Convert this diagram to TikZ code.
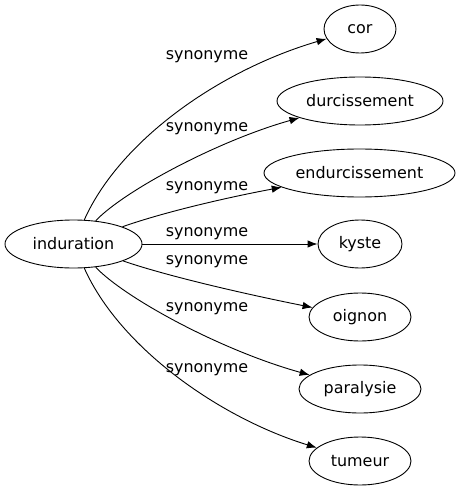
\documentclass[tikz,border=0pt]{standalone}
\usepackage{fontspec}
\setmainfont{DejaVu Sans}
\usetikzlibrary{shapes.geometric,arrows.meta}
\begin{document}
\begin{tikzpicture}[x=1bp,y=-1bp,
  every node/.style={font=\fontsize{16}{19}\selectfont},
  term/.style={draw,ellipse,inner sep=0pt,minimum height=48bp,line width=0.9bp},
  lab/.style={inner sep=0pt},
  edge/.style={line width=0.9bp,-{Latex[length=10bp,width=7.5bp]}}]
\useasboundingbox (0,0) rectangle (460,491);
\node[term,minimum width=137bp] (ind) at (73.5,244) {induration};
\node[term,minimum width=72bp] (cor) at (360,29) {cor};
\node[term,minimum width=166bp] (dur) at (360,101) {durcissement};
\node[term,minimum width=191bp] (end) at (359.5,173) {endurcissement};
\node[term,minimum width=84bp] (kys) at (360,244) {kyste};
\node[term,minimum width=102bp] (oig) at (360,317) {oignon};
\node[term,minimum width=122bp] (par) at (360,389) {paralysie};
\node[term,minimum width=102bp] (tum) at (360,461) {tumeur};
\draw[edge] (ind) .. controls (120,140) and (220,70) .. (cor);
\draw[edge] (ind) .. controls (125,190) and (220,140) .. (dur);
\draw[edge] (ind) .. controls (170,210) and (240,195) .. (end);
\draw[edge] (ind) -- (kys);
\draw[edge] (ind) .. controls (170,277) and (250,295) .. (oig);
\draw[edge] (ind) .. controls (125,298) and (220,350) .. (par);
\draw[edge] (ind) .. controls (120,348) and (220,418) .. (tum);
\node[lab] (l1) at (207,57) {synonyme};
\node[lab] (l2) at (207,129) {synonyme};
\node[lab] (l3) at (207,188) {synonyme};
\node[lab] (l4) at (207,234) {synonyme};
\node[lab] (l5) at (207,262) {synonyme};
\node[lab] (l6) at (207,309) {synonyme};
\node[lab] (l7) at (207,370) {synonyme};
\end{tikzpicture}
\end{document}
